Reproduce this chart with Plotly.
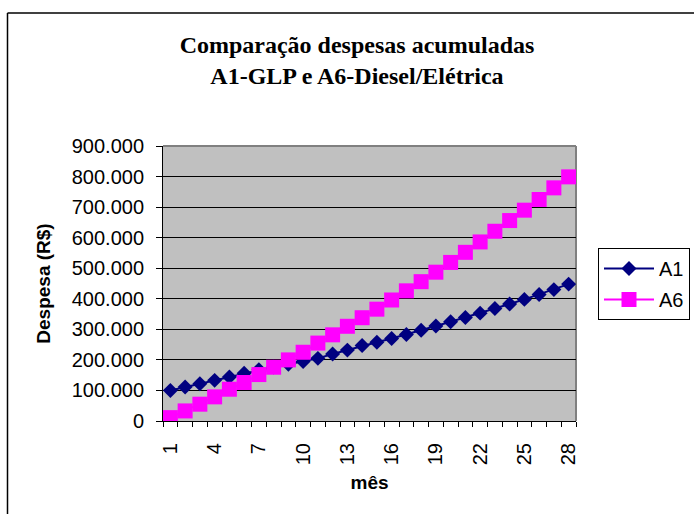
import plotly.graph_objects as go

months = list(range(1, 29))
a1_values = [100000, 111000, 122000, 133000, 144000, 156000, 168000, 177000,
             186000, 195000, 205000, 219000, 232000, 247000, 258000, 270000,
             283000, 297000, 311000, 325000, 339000, 353000, 368000, 383000,
             398000, 414000, 430000, 448000]
a6_values = [11000, 33000, 55000, 79000, 104000, 126000, 152000, 176000,
             200000, 225000, 255000, 282000, 310000, 338000, 366000, 396000,
             426000, 456000, 487000, 519000, 552000, 586000, 621000, 656000,
             690000, 725000, 763000, 799000]
x_tick_labels = [1, 4, 7, 10, 13, 16, 19, 22, 25, 28]
y_tick_values = [0, 100000, 200000, 300000, 400000, 500000, 600000, 700000, 800000, 900000]

fig = go.Figure()
fig.add_trace(go.Scatter(
    x=months, y=a1_values, name="A1", mode="lines+markers", legendgroup="a1",
    line=dict(color="#000080", width=2),
    marker=dict(symbol="diamond", size=11.5, color="#000080", line=dict(width=0)),
))
fig.add_trace(go.Scatter(
    x=months, y=a6_values, name="A6", mode="lines+markers", legendgroup="a6",
    line=dict(color="#FF00FF", width=2),
    marker=dict(symbol="square", size=15, color="#FF00FF", line=dict(width=0)),
))

W, H = 694, 514
L, R, T, B = 163, 576, 146, 421
pw, ph = R - L, B - T

def px(x):
    return (x - L) / pw

def py(y):
    return (B - y) / ph

fig.update_layout(
    width=W, height=H,
    margin=dict(l=L, r=W - R, t=T, b=H - B, pad=0),
    paper_bgcolor="white",
    plot_bgcolor="#C0C0C0",
    separators=",.",
    font=dict(family="Liberation Sans, Arial, sans-serif", size=20, color="black"),
    title=dict(
        text="<b>Comparação despesas acumuladas<br>A1-GLP e A6-Diesel/Elétrica</b>",
        font=dict(family="Liberation Serif, Times New Roman, serif", size=24, color="black"),
        xref="container", x=357 / W, xanchor="center",
        yref="container", y=1 - 53 / H, yanchor="top",
    ),
    showlegend=True,
    legend=dict(
        xref="container", yref="container",
        x=598 / W, y=1 - 248 / H, xanchor="left", yanchor="top",
        bgcolor="white", bordercolor="black", borderwidth=1,
        font=dict(size=20, family="Liberation Sans, Arial, sans-serif"),
        tracegroupgap=2, itemwidth=50,
    ),
    xaxis=dict(
        range=[0.5, 28.5],
        tickmode="array", tickvals=x_tick_labels, ticktext=[str(v) for v in x_tick_labels],
        tickangle=-90, ticks="", ticklabelstandoff=13,
        showgrid=False, zeroline=False,
        showline=True, linecolor="black", linewidth=1,
        minor=dict(tickmode="array", tickvals=[m - 0.5 for m in months] + [28.5],
                   ticks="outside", ticklen=5, tickcolor="black", tickwidth=1, showgrid=False),
        title=dict(text="<b>mês</b>", font=dict(size=19), standoff=11),
        fixedrange=True,
    ),
    yaxis=dict(
        range=[0, 900000],
        tickmode="array", tickvals=y_tick_values, tickformat=",d",
        ticks="outside", ticklen=6, tickcolor="black",
        ticklabelstandoff=8,
        showgrid=True, gridcolor="black", gridwidth=1,
        zeroline=False,
        showline=True, linecolor="black", linewidth=1,
        title=dict(text="<b>Despesa (R$)</b>", font=dict(size=19), standoff=16),
        fixedrange=True,
    ),
    shapes=[
        dict(type="line", xref="paper", yref="paper", x0=0, x1=1, y0=1, y1=1,
             line=dict(color="#808080", width=2), layer="above"),
        dict(type="line", xref="paper", yref="paper", x0=1, x1=1, y0=0, y1=1,
             line=dict(color="#808080", width=2), layer="below"),
        dict(type="line", xref="paper", yref="paper", x0=px(7.5), x1=px(7.5), y0=py(13), y1=py(530),
             line=dict(color="black", width=1.5)),
        dict(type="line", xref="paper", yref="paper", x0=px(7.5), x1=px(710), y0=py(13), y1=py(13),
             line=dict(color="black", width=1.5)),
    ],
)

fig.write_html("out.html", config={"displayModeBar": False},
               post_script="document.body.style.margin='0';")
